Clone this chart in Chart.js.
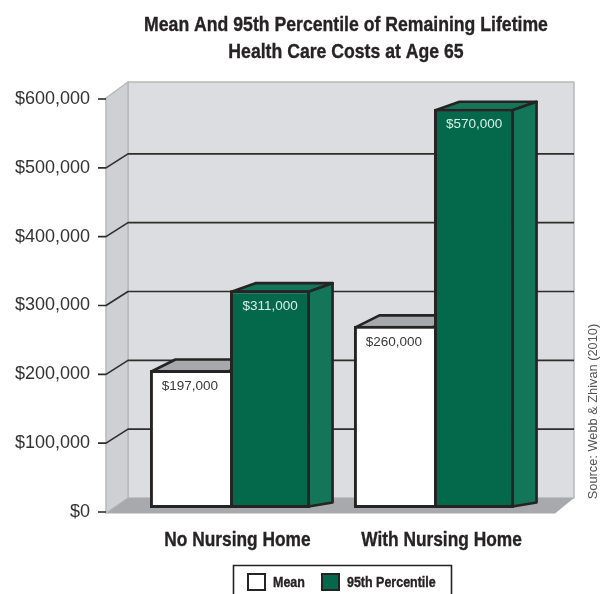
<!DOCTYPE html>
<html>
<head>
<meta charset="utf-8">
<style>
  html, body { margin: 0; padding: 0; background: #fff; }
  canvas { display: block; }
</style>
<script src="https://cdn.jsdelivr.net/npm/chart.js@4/dist/chart.umd.min.js"></script>
</head>
<body>
<canvas id="myChart" width="608" height="594"></canvas>
<script>
var categories = ["No Nursing Home", "With Nursing Home"];
var meanValues = [197000, 260000];
var p95Values = [311000, 570000];
var yTickValues = [0, 100000, 200000, 300000, 400000, 500000, 600000];
var titleLines = ["Mean And 95th Percentile of Remaining Lifetime", "Health Care Costs at Age 65"];
var sourceNote = "Source: Webb & Zhivan (2010)";

var plain = "'Liberation Sans', sans-serif";
var ink = "#262324";
var green = "#03694a";
var greenSide = "#147659";

// depth of the box: how far the back wall sits from the front plane
var wallDx = 22, wallDy = -14;

function poly(ctx, pts, fill, stroke, lw) {
  ctx.beginPath();
  ctx.moveTo(pts[0][0], pts[0][1]);
  for (var i = 1; i < pts.length; i++) ctx.lineTo(pts[i][0], pts[i][1]);
  ctx.closePath();
  if (fill) { ctx.fillStyle = fill; ctx.fill(); }
  if (stroke) { ctx.strokeStyle = stroke; ctx.lineWidth = lw; ctx.lineJoin = "round"; ctx.stroke(); }
}

// bold text squeezed sideways, no condensed face is available
function narrowText(ctx, text, x, y, size, squeeze, align) {
  ctx.save();
  ctx.translate(x, y);
  ctx.scale(squeeze, 1);
  ctx.font = "bold " + size + "px " + plain;
  ctx.fillStyle = ink;
  ctx.strokeStyle = ink;
  ctx.lineWidth = 0.35;
  ctx.textAlign = align || "center";
  ctx.textBaseline = "middle";
  ctx.fillText(text, 0, 0);
  ctx.strokeText(text, 0, 0);
  ctx.restore();
}

// walls, floor and the gridlines that bend round the left wall
var boxPlugin = {
  id: "box",
  beforeDatasetsDraw: function(chart) {
    var ctx = chart.ctx, y = chart.scales.y;
    var zero = y.getPixelForValue(0);
    var x0 = 106, x1 = x0 + wallDx, xr = 574, xf = 555, top = 82;
    ctx.save();
    poly(ctx, [[x1, top], [xr, top], [xr, zero + wallDy], [x1, zero + wallDy]], "#dcdde0", "#b7b8ba", 1.5);
    poly(ctx, [[x0, 98], [x1, top], [x1, zero + wallDy], [x0, zero + 1]], "#cfd0d3", "#b7b8ba", 1.5);
    poly(ctx, [[x0, zero + 1.5], [x1, zero + wallDy], [xr, zero + wallDy], [xf, zero + 1.5]], "#a8a9ac");

    ctx.strokeStyle = "#2f2c2d";
    ctx.lineWidth = 1.6;
    y.ticks.forEach(function(t) {
      var py = y.getPixelForValue(t.value);
      ctx.beginPath();
      ctx.moveTo(98, py);
      ctx.lineTo(x0, py);
      if (t.value > 0 && t.value < 600000) {
        ctx.lineTo(x1, py + wallDy);
        ctx.lineTo(xr, py + wallDy);
      }
      ctx.stroke();
    });

    // top and side faces of the bars, the fronts are drawn over them by the library
    [0, 1].forEach(function(d) {
      var rise = d === 0 ? -12 : -8.5;
      var topFill = d === 0 ? "#a7a8ab" : greenSide;
      chart.getDatasetMeta(d).data.forEach(function(bar) {
        var l = bar.x - bar.width / 2 + 1.5, r = bar.x + bar.width / 2 - 1.5;
        var t = bar.y + 1.5, b = bar.base - 1.5;
        poly(ctx, [[l, t], [l + 24, t + rise], [r + 24, t + rise], [r, t]], topFill, ink, 2.6);
        if (d === 1) {
          poly(ctx, [[r, t], [r + 24, t + rise], [r + 24, b - 4], [r, b]], greenSide, ink, 2.6);
        }
      });
    });
    ctx.restore();
  },
  afterDatasetsDraw: function(chart) {
    var ctx = chart.ctx, xScale = chart.scales.x;
    ctx.save();
    ctx.textAlign = "center";
    ctx.textBaseline = "middle";
    ctx.font = "13.5px " + plain;
    [0, 1].forEach(function(d) {
      ctx.fillStyle = d === 0 ? "#3a3738" : "#d9efe6";
      var values = chart.data.datasets[d].data;
      chart.getDatasetMeta(d).data.forEach(function(bar, i) {
        ctx.fillText("$" + values[i].toLocaleString("en-US"), bar.x, bar.y + 16);
      });
    });

    // source note up the right edge
    ctx.save();
    ctx.translate(593, 411.5);
    ctx.rotate(-Math.PI / 2);
    ctx.fillStyle = "#555";
    ctx.font = "12.8px " + plain;
    ctx.fillText(sourceNote, 0, 0);
    ctx.restore();

    // heading and category names
    titleLines.forEach(function(line, i) {
      narrowText(ctx, line, 346, 25 + i * 27, 21, 0.84);
    });
    categories.forEach(function(name, i) {
      narrowText(ctx, name, xScale.getPixelForTick(i) + 7.5, 540, 21, 0.825);
    });

    // legend, framed and open at the page edge
    ctx.strokeStyle = ink;
    ctx.lineWidth = 1.6;
    ctx.beginPath();
    ctx.moveTo(233.5, 594);
    ctx.lineTo(233.5, 565.5);
    ctx.lineTo(451.5, 565.5);
    ctx.lineTo(451.5, 594);
    ctx.stroke();
    var keyX = [248, 322];
    chart.data.datasets.forEach(function(ds, i) {
      ctx.fillStyle = ds.backgroundColor;
      ctx.strokeStyle = ink;
      ctx.lineWidth = 2;
      ctx.fillRect(keyX[i], 574, 17, 16);
      ctx.strokeRect(keyX[i], 574, 17, 16);
      narrowText(ctx, ds.label, keyX[i] + 25, 582.5, 14.5, 0.86, "left");
    });
    ctx.restore();
  }
};

var ctx = document.getElementById("myChart").getContext("2d");
var myChart = new Chart(ctx, {
  type: "bar",
  plugins: [boxPlugin],
  data: {
    labels: categories,
    datasets: [{
      label: "Mean",
      yAxisID: "barY",
      data: meanValues,
      backgroundColor: "#ffffff",
      borderColor: ink,
      borderWidth: { left: 3, top: 3, bottom: 3, right: 0 },
      borderSkipped: false,
      barPercentage: 1,
      categoryPercentage: 0.785
    }, {
      label: "95th Percentile",
      yAxisID: "barY",
      data: p95Values,
      backgroundColor: green,
      borderColor: ink,
      borderWidth: 3,
      borderSkipped: false,
      barPercentage: 1,
      categoryPercentage: 0.785
    }]
  },
  options: {
    responsive: false,
    animation: false,
    layout: { padding: { left: 0, right: 72, top: 99, bottom: 0 } },
    plugins: {
      tooltip: { enabled: false },
      legend: { display: false }
    },
    scales: {
      x: {
        grid: { display: false },
        border: { display: false },
        ticks: { display: false },
        afterFit: function(scale) { scale.height = 82; }
      },
      y: {
        min: 0,
        max: 600000,
        grid: { display: false },
        border: { display: false },
        afterBuildTicks: function(scale) {
          scale.ticks = yTickValues.map(function(v) { return { value: v }; });
        },
        ticks: {
          color: "#333",
          padding: 30,
          font: { family: plain, size: 18 },
          callback: function(v) { return "$" + v.toLocaleString("en-US"); }
        },
        afterFit: function(scale) { scale.width = 128; }
      },
      // bars stand a little inside the box, so their zero sits just above the axis zero
      barY: {
        display: false,
        min: -5714,
        max: 583886
      }
    }
  }
});
</script>
</body>
</html>
